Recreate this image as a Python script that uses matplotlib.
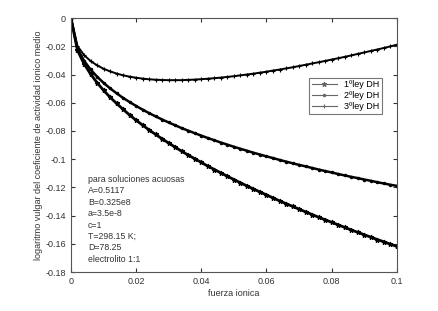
import matplotlib
matplotlib.use("Agg")
import matplotlib.pyplot as plt
from matplotlib.ticker import FuncFormatter

plt.rcParams['font.family'] = ['Liberation Sans', 'DejaVu Sans']

fuerza = [0.000, 0.002, 0.004, 0.006, 0.008, 0.010, 0.012, 0.014, 0.016, 0.018,
          0.020, 0.022, 0.024, 0.026, 0.028, 0.030, 0.032, 0.034, 0.036, 0.038,
          0.040, 0.042, 0.044, 0.046, 0.048, 0.050, 0.052, 0.054, 0.056, 0.058,
          0.060, 0.062, 0.064, 0.066, 0.068, 0.070, 0.072, 0.074, 0.076, 0.078,
          0.080, 0.082, 0.084, 0.086, 0.088, 0.090, 0.092, 0.094, 0.096, 0.098,
          0.100]

ley1 = [0.0, -0.0229, -0.0324, -0.0396, -0.0458, -0.0512, -0.0561, -0.0605, -0.0647, -0.0687,
        -0.0724, -0.0759, -0.0793, -0.0825, -0.0856, -0.0886, -0.0915, -0.0944, -0.0971, -0.0997,
        -0.1023, -0.1049, -0.1073, -0.1097, -0.1121, -0.1144, -0.1167, -0.1189, -0.1211, -0.1232,
        -0.1253, -0.1274, -0.1295, -0.1315, -0.1334, -0.1354, -0.1373, -0.1392, -0.1411, -0.1429,
        -0.1447, -0.1465, -0.1483, -0.1501, -0.1518, -0.1535, -0.1552, -0.1569, -0.1585, -0.1602,
        -0.1618]

ley2 = [0.0, -0.0218, -0.0302, -0.0364, -0.0415, -0.0459, -0.0498, -0.0533, -0.0566, -0.0595,
        -0.0623, -0.0649, -0.0674, -0.0697, -0.0719, -0.0740, -0.0760, -0.0780, -0.0798, -0.0816,
        -0.0833, -0.0850, -0.0866, -0.0882, -0.0897, -0.0912, -0.0926, -0.0940, -0.0954, -0.0967,
        -0.0980, -0.0992, -0.1005, -0.1017, -0.1029, -0.1040, -0.1051, -0.1062, -0.1073, -0.1084,
        -0.1094, -0.1105, -0.1115, -0.1125, -0.1134, -0.1144, -0.1153, -0.1163, -0.1172, -0.1181,
        -0.1189]

ley3 = [0.0, -0.0198, -0.0262, -0.0304, -0.0335, -0.0359, -0.0378, -0.0393, -0.0406, -0.0415,
        -0.0423, -0.0429, -0.0434, -0.0437, -0.0439, -0.0440, -0.0440, -0.0440, -0.0438, -0.0436,
        -0.0433, -0.0430, -0.0426, -0.0422, -0.0417, -0.0412, -0.0406, -0.0400, -0.0394, -0.0387,
        -0.0380, -0.0372, -0.0365, -0.0357, -0.0349, -0.0340, -0.0331, -0.0322, -0.0313, -0.0304,
        -0.0294, -0.0285, -0.0275, -0.0265, -0.0254, -0.0244, -0.0233, -0.0223, -0.0212, -0.0201,
        -0.0189]

etiquetas = ['1ºley DH', '2ºley DH', '3ºley DH']
texto = ['para soluciones acuosas', 'A=0.5117', 'B=0.325e8', 'a=3.5e-8', 'c=1',
         'T=298.15 K;', 'D=78.25', 'electrolito 1:1']

fig = plt.figure(figsize=(4.38, 3.11), dpi=100)
ax = fig.add_axes([0.162, 0.125, 0.744, 0.817])

ax.plot(fuerza, ley1, marker='*', color='black', lw=2.0, ms=3.5, mew=0.8, label=etiquetas[0])
ax.plot(fuerza, ley2, marker='.', color='black', lw=1.8, ms=3, label=etiquetas[1])
ax.plot(fuerza, ley3, marker='+', color='black', lw=1.4, ms=3.5, mew=0.8, label=etiquetas[2])

ax.set_xlim(0, 0.1)
ax.set_ylim(-0.18, 0)
ax.set_xticks([0, 0.02, 0.04, 0.06, 0.08, 0.1])
ax.set_yticks([0, -0.02, -0.04, -0.06, -0.08, -0.1, -0.12, -0.14, -0.16, -0.18])
fmt = FuncFormatter(lambda v, p: '%g' % round(v, 4))
ax.xaxis.set_major_formatter(fmt)
ax.yaxis.set_major_formatter(fmt)
ax.tick_params(direction='in', length=3, labelsize=6.5, top=True, right=True,
               colors='#333333', labelcolor='#333333')
for s in ax.spines.values():
    s.set_color('#555555')
    s.set_linewidth(0.8)

ax.set_xlabel('fuerza ionica', fontsize=6.5, color='#333333', labelpad=2)
ax.set_ylabel('logaritmo vulgar del coeficiente de actividad ionico medio',
              fontsize=6.5, color='#333333', labelpad=2)

leg = ax.legend(loc='upper right', bbox_to_anchor=(0.955, 0.765), fontsize=6.5,
                frameon=True, fancybox=False, borderpad=0.3, labelspacing=0.2,
                handlelength=2.8, borderaxespad=0)
leg.get_frame().set_edgecolor('#555555')
leg.get_frame().set_linewidth(0.8)
for h in leg.legend_handles:
    h.set_linewidth(0.8)
    h.set_color('#666666')

ax.text(0.0052, -0.111, '\n'.join(texto), fontsize=6.3, color='#333333',
        va='top', ha='left', linespacing=1.35)

fig.savefig('out.png', dpi=100)
